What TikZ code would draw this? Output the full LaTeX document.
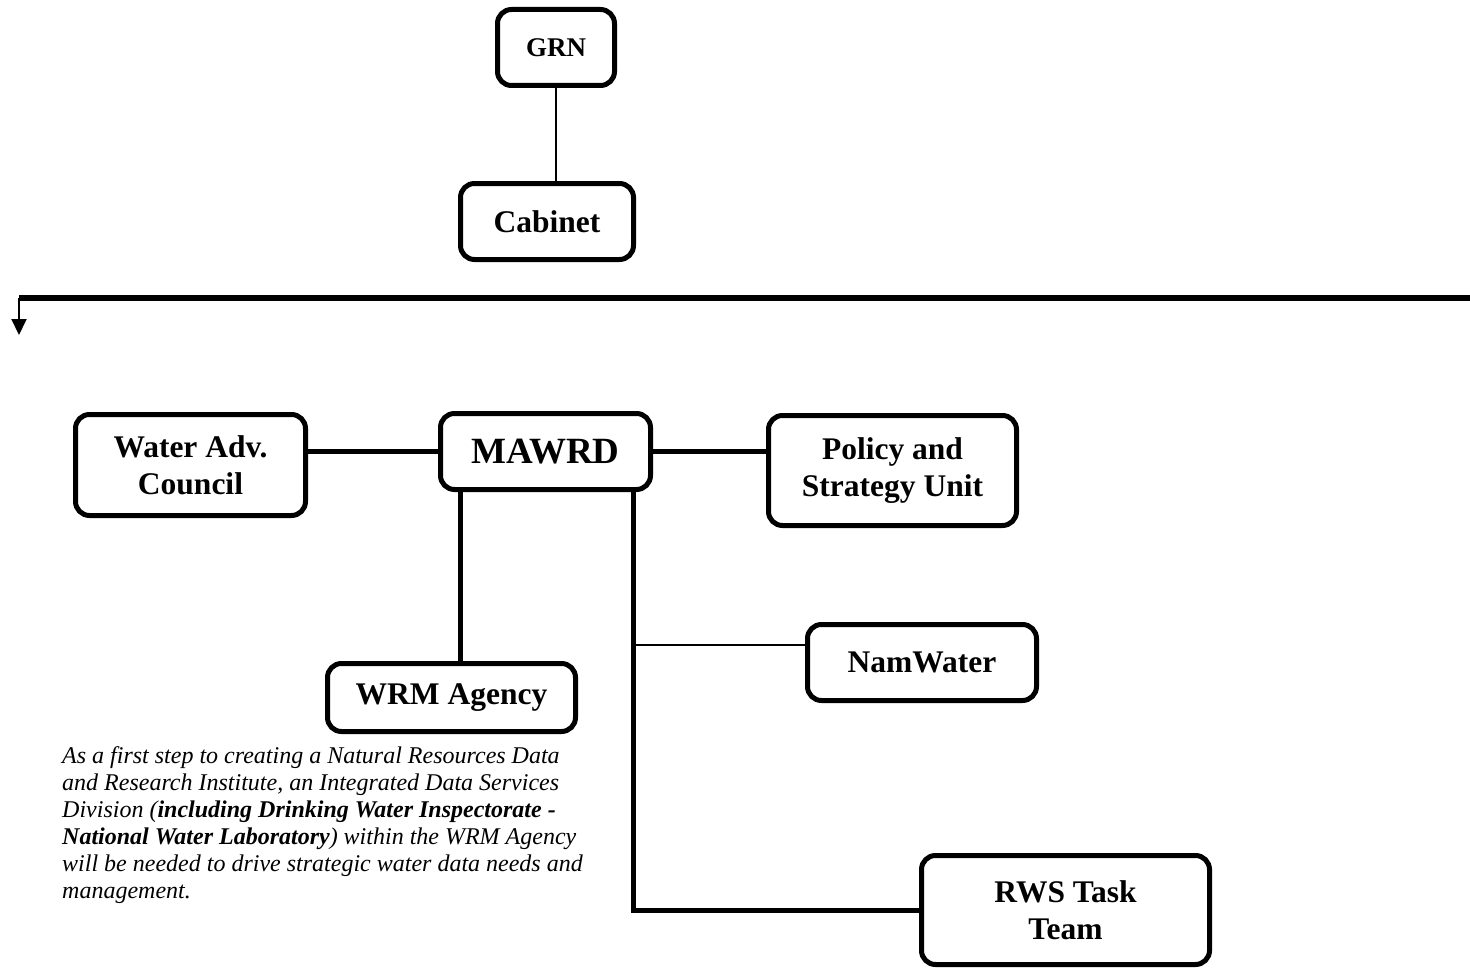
\documentclass[tikz,border=0pt]{standalone}
\usepackage{fontspec}
\setmainfont{Liberation Serif}
\usetikzlibrary{arrows.meta}
\begin{document}
\begin{tikzpicture}[x=1pt,y=-1pt,
  box/.style={draw, line width=5pt, rounded corners=14pt, align=center, inner sep=0pt},
  heavy/.style={line width=5pt},
  light/.style={line width=2pt},
  bigfont/.style={font=\fontsize{31.5}{37}\selectfont\bfseries}]
\fill[white] (0,0) rectangle (1470,971);
\useasboundingbox (0,0) rectangle (1470,971);
% boxes
\node[box, minimum width=117pt, minimum height=76pt, font=\fontsize{27}{32}\selectfont\bfseries] (grn) at (556,47.5) {GRN};
\node[box, minimum width=173pt, minimum height=76pt, bigfont] (cab) at (547,221.5) {Cabinet};
\node[box, minimum width=230pt, minimum height=101pt, bigfont] (wac) at (190.5,465) {Water Adv.\\Council};
\node[box, minimum width=210pt, minimum height=76pt, font=\fontsize{37}{42}\selectfont\bfseries] (mawrd) at (545.5,451.5) {MAWRD};
\node[box, minimum width=248pt, minimum height=110pt, bigfont] (psu) at (892.5,470.5) {Policy and\\Strategy Unit};
\node[box, minimum width=229pt, minimum height=76pt, bigfont] (nam) at (922,662.5) {NamWater};
\node[box, minimum width=248pt, minimum height=68pt, bigfont] (wrm) at (451.5,697.5) {WRM Agency};
\node[box, minimum width=288pt, minimum height=109pt, bigfont] (rws) at (1065.5,910) {RWS Task\\Team};
% connectors
\draw[light] (grn.south) -- (grn.south |- cab.north);
\coordinate (hl) at (19,298);
\coordinate (hr) at (1470,298);
\coordinate (tip) at (19,335);
\draw[line width=6pt] (hl) -- (hr);
\draw[light, -{Triangle[width=15pt,length=16pt]}] (hl) -- (tip);
\coordinate (ylev) at (0,451);
\draw[heavy] (mawrd.west |- ylev) -- (wac.east |- ylev);
\draw[heavy] (mawrd.east |- ylev) -- (psu.west |- ylev);
\coordinate (xa) at (460,0);
\coordinate (xb) at (633,0);
\draw[heavy] (mawrd.south -| xa) -- (wrm.north -| xa);
\draw[heavy] (mawrd.south -| xb) |- (rws.west);
\coordinate (br) at (633,645);
\draw[light] (br) -- (br -| nam.west);
% note
\node[anchor=north west, align=left, inner sep=0pt, font=\fontsize{24}{27}\selectfont\itshape] (note) at (62,746)
{As a first step to creating a Natural Resources Data\\
and Research Institute, an Integrated Data Services\\
Division (\textbf{including Drinking Water Inspectorate -}\\
\textbf{National Water Laboratory}) within the WRM Agency\\
will be needed to drive strategic water data needs and\\
management.};
\end{tikzpicture}
\end{document}
